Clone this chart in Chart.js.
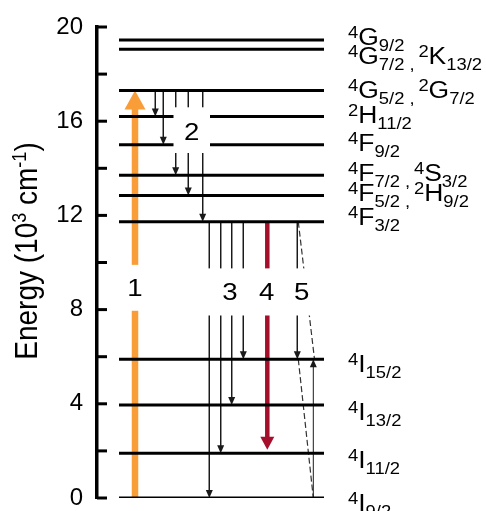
<!DOCTYPE html>
<html>
<head>
<meta charset="utf-8">
<script src="https://cdn.jsdelivr.net/npm/chart.js@4.4.0/dist/chart.umd.min.js"></script>
<style>
body { margin: 0; background: #fff; }
#targetElementID { width: 486px; height: 511px; position: relative; }
</style>
</head>
<body>
<div id="targetElementID"><canvas id="myChart"></canvas></div>
<script>
/* Datos del diagrama (energía en 10^3 cm-1) */
var yTicks = [0, 4, 8, 12, 16, 20];
var levelE = [19.45, 19.05, 17.3, 16.2, 15.0, 13.7, 12.85, 11.73, 5.89, 3.95, 1.9, 0];
var levelFrom = 2.2, levelTo = 22.7;
var levelLabels = [
	[['4', 'G', '9/2']],
	[['4', 'G', '7/2'], ['2', 'K', '13/2']],
	[['4', 'G', '5/2'], ['2', 'G', '7/2']],
	[['2', 'H', '11/2']],
	[['4', 'F', '9/2']],
	[['4', 'F', '7/2'], ['4', 'S', '3/2']],
	[['4', 'F', '5/2'], ['2', 'H', '9/2']],
	[['4', 'F', '3/2']],
	[['4', 'I', '15/2']],
	[['4', 'I', '13/2']],
	[['4', 'I', '11/2']],
	[['4', 'I', '9/2']]
];
var labelE = [19.24, 18.43, 16.99, 15.92, 14.73, 13.46, 12.61, 11.59, 5.35, 3.31, 1.27, -0.55];
var labelX = 25.1;

/* transiciones */
var pumpX = 3.8, pumpFrom = 0, pumpTo = 17.3;
var relaxX = [5.83, 6.63, 7.87, 9.13, 10.57];
var relaxFrom = 17.3;
var relaxTo = [16.2, 15.0, 13.7, 12.85, 11.73];
var emitX = [11.23, 12.37, 13.47, 14.63];
var emitFrom = 11.73;
var emitTo = [0, 1.9, 3.95, 5.89];
var laserX = 17.03, laserFrom = 11.73, laserTo = 2.05;
var crossDownX = 20.03, crossUpX = 21.63;
var crossFrom = 11.73, crossTo = 5.89;
var dashA = [[20.13, 11.73], [21.75, 5.89]];
var dashB = [[20.13, 5.89], [21.63, 0]];

/* etiquetas de grupos */
var groupLabels = ['1', '2', '3', '4', '5'];
var groupLabelX = [3.8, 9.47, 13.3, 16.97, 20.47];
var groupLabelE = [8.92, 15.52, 8.75, 8.75, 8.75];
// huecos blancos detras de las etiquetas [x1, x2, e1, e2]
var gaps = [[2.8, 4.8, 7.95, 9.9], [7.65, 11.3, 14.65, 16.59], [10.8, 21.5, 7.75, 9.75]];

var FONT = "'Liberation Sans', Arial, sans-serif";
var HS = 1.15; // la figura original esta algo estirada en horizontal
var colorPump = '#f99d38';
var colorLaser = '#a50f2c';
var colorThin = '#1a1a1a';

function seg(x1, y1, x2, y2, color, width, head, dash) {
	return {
		data: [{x: x1, y: y1}, {x: x2, y: y2}],
		borderColor: color,
		borderWidth: width,
		borderDash: dash || [],
		borderCapStyle: 'butt',
		pointRadius: 0,
		fill: false,
		tension: 0,
		head: head || null
	};
}

var datasets = [];
for (var i = 0; i < levelE.length; i++) {
	datasets.push(seg(levelFrom, levelE[i], levelTo, levelE[i], '#000', 3));
}
datasets.push(seg(pumpX, pumpFrom, pumpX, pumpTo, colorPump, 6.5, [19, 21]));
for (var i = 0; i < relaxX.length; i++) {
	datasets.push(seg(relaxX[i], relaxFrom, relaxX[i], relaxTo[i], colorThin, 1, [8, 7]));
}
for (var i = 0; i < emitX.length; i++) {
	datasets.push(seg(emitX[i], emitFrom, emitX[i], emitTo[i], colorThin, 1, [8, 7]));
}
datasets.push(seg(laserX, laserFrom, laserX, laserTo, colorLaser, 4.5, [13, 14]));
datasets.push(seg(crossDownX, crossFrom, crossDownX, crossTo, colorThin, 1, [8, 7]));
datasets.push(seg(crossUpX, 0, crossUpX, crossTo, colorThin, 1, [8, 7]));
datasets.push(seg(dashA[0][0], dashA[0][1], dashA[1][0], dashA[1][1], '#333', 1.2, null, [6, 3]));
datasets.push(seg(dashB[0][0], dashB[0][1], dashB[1][0], dashB[1][1], '#333', 1.2, null, [6, 3]));

/* dibuja termino espectroscopico: superindice, letra, subindice */
function drawTerm(ctx, x, y, t) {
	ctx.save();
	ctx.translate(x, y);
	ctx.scale(HS, 1);
	var cx = 0;
	ctx.font = '16px ' + FONT;
	ctx.fillText(t[0], cx, -7);
	cx += ctx.measureText(t[0]).width;
	ctx.font = '23px ' + FONT;
	ctx.fillText(t[1], cx, 0);
	cx += ctx.measureText(t[1]).width;
	ctx.font = '16px ' + FONT;
	ctx.fillText(t[2], cx, 6);
	cx += ctx.measureText(t[2]).width;
	ctx.restore();
	return cx * HS;
}

function drawYTitle(ctx, bx, cy) {
	var parts = [['Energy (10', 0, 28], ['3', -10, 18], [' cm', 0, 28], ['-1', -10, 18], [')', 0, 28]];
	ctx.save();
	var total = 0;
	for (var i = 0; i < parts.length; i++) {
		ctx.font = parts[i][2] + 'px ' + FONT;
		total += ctx.measureText(parts[i][0]).width;
	}
	ctx.translate(bx, cy);
	ctx.rotate(-Math.PI / 2);
	ctx.scale(1, HS);
	var x = -total / 2;
	for (var i = 0; i < parts.length; i++) {
		ctx.font = parts[i][2] + 'px ' + FONT;
		ctx.fillText(parts[i][0], x, parts[i][1]);
		x += ctx.measureText(parts[i][0]).width;
	}
	ctx.restore();
}

var diagramPlugin = {
	id: 'diagram',
	beforeDatasetDraw: function(chart, args) {
		var ds = chart.data.datasets[args.index];
		if (!ds.head) return;
		var pts = args.meta.data;
		var a = pts[0], b = pts[pts.length - 1];
		var ctx = chart.ctx;
		ctx.save();
		ctx.beginPath();
		if (b.y > a.y) ctx.rect(0, 0, chart.width, b.y - ds.head[0] + 1);
		else ctx.rect(0, b.y + ds.head[0] - 1, chart.width, chart.height);
		ctx.clip();
	},
	afterDatasetDraw: function(chart, args) {
		var ds = chart.data.datasets[args.index];
		if (!ds.head) return;
		var ctx = chart.ctx;
		ctx.restore();
		var pts = args.meta.data;
		var a = pts[0], b = pts[pts.length - 1];
		var dir = b.y > a.y ? 1 : -1;
		ctx.save();
		ctx.fillStyle = ds.borderColor;
		ctx.beginPath();
		ctx.moveTo(b.x, b.y);
		ctx.lineTo(b.x - ds.head[1] / 2, b.y - dir * ds.head[0]);
		ctx.lineTo(b.x + ds.head[1] / 2, b.y - dir * ds.head[0]);
		ctx.closePath();
		ctx.fill();
		ctx.restore();
	},
	afterDatasetsDraw: function(chart) {
		var ctx = chart.ctx;
		var xs = chart.scales.x, ys = chart.scales.y;
		ctx.save();
		// huecos blancos
		ctx.fillStyle = '#fff';
		for (var i = 0; i < gaps.length; i++) {
			var x1 = xs.getPixelForValue(gaps[i][0]), x2 = xs.getPixelForValue(gaps[i][1]);
			var y1 = ys.getPixelForValue(gaps[i][3]), y2 = ys.getPixelForValue(gaps[i][2]);
			ctx.fillRect(x1, y1, x2 - x1, y2 - y1);
		}
		// marcas del eje hacia dentro
		ctx.strokeStyle = '#000';
		ctx.lineWidth = 3;
		ys.ticks.forEach(function(t) {
			var y = ys.getPixelForValue(t.value);
			ctx.beginPath();
			ctx.moveTo(chart.chartArea.left, y);
			ctx.lineTo(chart.chartArea.left + 10, y);
			ctx.stroke();
		});
		// numeros de procesos
		ctx.fillStyle = '#000';
		ctx.textAlign = 'center';
		ctx.textBaseline = 'middle';
		for (var i = 0; i < groupLabels.length; i++) {
			ctx.save();
			ctx.translate(xs.getPixelForValue(groupLabelX[i]), ys.getPixelForValue(groupLabelE[i]));
			ctx.scale(HS, 1);
			ctx.font = '24px ' + FONT;
			ctx.fillText(groupLabels[i], 0, 1);
			ctx.restore();
		}
		// nombres de niveles
		ctx.textAlign = 'left';
		ctx.textBaseline = 'alphabetic';
		for (var i = 0; i < levelLabels.length; i++) {
			var x = xs.getPixelForValue(labelX);
			var y = ys.getPixelForValue(labelE[i]);
			var terms = levelLabels[i];
			for (var j = 0; j < terms.length; j++) {
				if (j > 0) {
					x += 5;
					ctx.save();
					ctx.translate(x, y);
					ctx.scale(HS, 1);
					ctx.font = '16px ' + FONT;
					ctx.fillText(',', 0, 6);
					ctx.restore();
					x += 9;
				}
				x += drawTerm(ctx, x, y, terms[j]);
			}
		}
		drawYTitle(ctx, 37, 251);
		ctx.restore();
	}
};

var options = {
	animation: false,
	responsive: true,
	maintainAspectRatio: false,
	layout: { padding: { left: 0, top: 27, right: 139, bottom: 13 } },
	plugins: { legend: { display: false }, tooltip: { enabled: false } },
	scales: {
		x: { type: 'linear', min: 0, max: 25, display: false },
		y: {
			type: 'linear',
			min: 0,
			max: 20,
			afterFit: function(scale) {
				scale.width = 97;
				scale.paddingTop = 0;
				scale.paddingBottom = 0;
			},
			grid: { display: false, drawTicks: false },
			border: { display: true, color: '#000', width: 3.5 },
			ticks: {
				stepSize: 2,
				padding: 14,
				color: '#000',
				font: { family: FONT, size: 24, lineHeight: 1 },
				callback: function(v) { return yTicks.indexOf(v) >= 0 ? String(v) : ''; }
			}
		}
	}
};

var context = document.getElementById('myChart').getContext('2d');
var myChart = new Chart(context, {
	type: 'line',
	data: { datasets: datasets },
	options: options,
	plugins: [diagramPlugin]
});
</script>
</body>
</html>
